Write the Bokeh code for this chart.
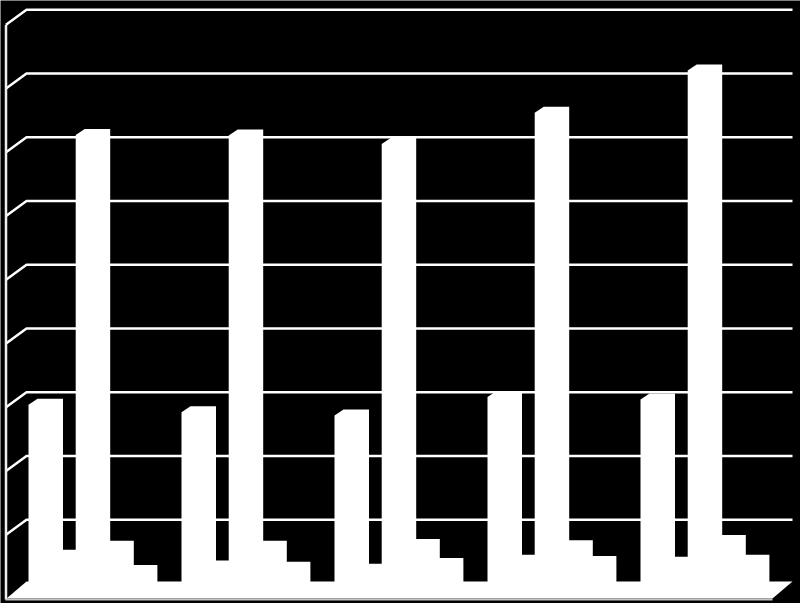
from bokeh.plotting import figure
from bokeh.models import Range1d
from bokeh.embed import file_html
from bokeh.resources import INLINE

groups = [0, 1, 2, 3, 4]
series_a = [2.90, 2.78, 2.73, 3.02, 2.98]
series_b = [0.53, 0.36, 0.31, 0.45, 0.42]
series_c = [7.13, 7.12, 6.99, 7.48, 8.14]
series_d = [0.67, 0.67, 0.70, 0.68, 0.76]
series_e = [0.29, 0.34, 0.40, 0.43, 0.45]
grid_values = [1, 2, 3, 4, 5, 6, 7, 8, 9]

W, H = 800, 603
PX_X = 153.0           # pixels per category
PX_Y = 63.75           # pixels per value unit
X0, Y0 = 28.0, 583.0   # reference pixel of category 0 / value 0

def ux(px):
    return (px - X0) / PX_X
def uy(px):
    return (Y0 - px) / PX_Y

p = figure(width=W, height=H, output_backend="svg", toolbar_location=None,
           x_range=Range1d(ux(0), ux(W)), y_range=Range1d(uy(H), uy(0)),
           min_border=0, background_fill_color="black", border_fill_color="black",
           outline_line_color=None)
p.axis.visible = False
p.grid.visible = False

WHITE = "#ffffff"
for v in grid_values:
    y = uy(Y0 - v * PX_Y)
    p.line([ux(5.5), ux(26), ux(792)], [y - 15 / PX_Y, y, y], line_color=WHITE, line_width=2.5)
p.line([ux(5.5), ux(5.5)], [grid_values[-1] - 15 / PX_Y, uy(599)], line_color="#eeeeee", line_width=2.5)
p.patch([ux(6), ux(26), ux(792), ux(772)], [uy(598), uy(581), uy(581), uy(598)],
        fill_color=WHITE, line_color=None)
p.line([ux(5), ux(772)], [uy(599), uy(599)], line_color="#c4c4c4", line_width=2)

bar_w = 34.5 / PX_X
step = 23.6 / PX_X
cut_x, cut_y = 9.0 / PX_X, 6.0 / PX_Y
for j, vals in enumerate([series_a, series_b, series_c, series_d, series_e]):
    xs, ys = [], []
    for g, v in zip(groups, vals):
        x0 = g + j * step
        xs.append([x0, x0, x0 + cut_x, x0 + bar_w, x0 + bar_w])
        ys.append([uy(590), v - cut_y, v, v, uy(590)])
    p.patches(xs, ys, fill_color=WHITE, line_color=None)

open("out.html", "w").write(file_html(p, INLINE))
